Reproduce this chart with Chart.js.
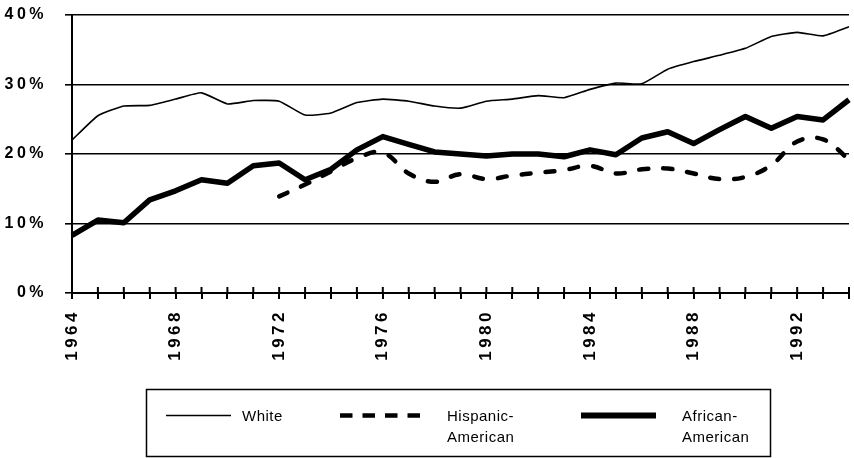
<!DOCTYPE html>
<html>
<head>
<meta charset="utf-8">
<script src="https://cdn.jsdelivr.net/npm/chart.js@4.4.1/dist/chart.umd.min.js"></script>
<style>
  html, body { margin: 0; padding: 0; background: #fff; }
  #wrap { position: relative; width: 854px; height: 458px; }
</style>
</head>
<body>
<div id="wrap"><canvas id="chart"></canvas></div>
<script>
// data (percent)
const years = [];
for (let y = 1964; y <= 1994; y++) years.push(String(y));

const white = [22.0, 25.5, 26.9, 27.0, 27.9, 28.8, 27.2, 27.7, 27.6, 25.6, 25.9, 27.4,
               27.9, 27.6, 26.9, 26.6, 27.6, 27.9, 28.4, 28.1, 29.3,
               30.2, 30.1, 32.2, 33.3, 34.2, 35.2, 36.9, 37.5, 37.0, 38.3];
const hispanic = [null, null, null, null, null, null, null, null,
                  13.9, 15.6, 17.5, 19.4,
                  20.2, 17.2, 16.0, 17.1, 16.4, 16.9, 17.3, 17.7, 18.3,
                  17.2, 17.8, 17.9, 17.2, 16.4, 16.7, 18.4, 21.8, 22.1, 19.2];
const african = [8.3, 10.5, 10.1, 13.4, 14.7, 16.3, 15.8, 18.3, 18.7, 16.3, 17.8, 20.6,
                 22.5, 21.4, 20.3, 20.0, 19.7, 20.0, 20.0, 19.6, 20.6,
                 19.9, 22.3, 23.2, 21.5, 23.5, 25.4, 23.7, 25.4, 24.9, 27.8];
const yTicks = [0, 10, 20, 30, 40];

const FONT = '"Liberation Sans", Arial, sans-serif';

// letter spacing like the scanned original
const spacing = {
    id: 'spacing',
    beforeUpdate(chart) { chart.ctx.letterSpacing = '3.5px'; },
    beforeDraw(chart) { chart.ctx.letterSpacing = '3.5px'; }
};

// tick marks cross the x axis, plus the boxed legend under the chart
const extras = {
    id: 'extras',
    afterDraw(chart) {
        const ctx = chart.ctx;
        const x = chart.scales.x;
        const bottom = chart.chartArea.bottom;
        ctx.save();
        ctx.strokeStyle = '#000';
        ctx.lineWidth = 2;
        x.ticks.forEach((t, i) => {
            const px = x.getPixelForTick(i);
            ctx.beginPath();
            ctx.moveTo(px, bottom - 6);
            ctx.lineTo(px, bottom);
            ctx.stroke();
        });

        // legend box
        ctx.lineWidth = 1.5;
        ctx.strokeRect(146.5, 389.5, 624, 67);
        const ds = chart.data.datasets;
        const items = [
            { x0: 166, x1: 231, tx: 242, lines: ['White'], d: ds[0], dash: [], w: 1.5 },
            { x0: 340, x1: 421, tx: 447, lines: ['Hispanic-', 'American'], d: ds[1], dash: [12.5, 10], w: 4.5 },
            { x0: 581, x1: 656, tx: 682, lines: ['African-', 'American'], d: ds[2], dash: [], w: 6 }
        ];
        items.forEach(it => {
            ctx.beginPath();
            ctx.setLineDash(it.dash);
            ctx.lineCap = 'butt';
            ctx.lineWidth = it.w;
            ctx.strokeStyle = it.d.borderColor;
            ctx.moveTo(it.x0, 415.5);
            ctx.lineTo(it.x1, 415.5);
            ctx.stroke();
            ctx.setLineDash([]);
            ctx.fillStyle = '#000';
            ctx.font = '15px ' + FONT;
            ctx.letterSpacing = '0.5px';
            ctx.textAlign = 'left';
            ctx.textBaseline = 'middle';
            it.lines.forEach((s, k) => ctx.fillText(s, it.tx, 417 + k * 21));
        });
        ctx.restore();
    }
};

const ctx = document.getElementById('chart').getContext('2d');
const chart = new Chart(ctx, {
    type: 'line',
    data: {
        labels: years,
        datasets: [{
            label: 'White',
            data: white,
            borderColor: '#000',
            borderWidth: 1.6,
            pointRadius: 0,
            tension: 0.15
        }, {
            label: 'Hispanic-American',
            data: hispanic,
            borderColor: '#000',
            borderWidth: 4.5,
            borderDash: [9, 15],
            borderCapStyle: 'round',
            pointRadius: 0,
            tension: 0.4,
            spanGaps: false
        }, {
            label: 'African-American',
            data: african,
            borderColor: '#000',
            borderWidth: 5.5,
            borderJoinStyle: 'round',
            pointRadius: 0,
            tension: 0
        }]
    },
    options: {
        responsive: true,
        maintainAspectRatio: false,
        animation: false,
        layout: { padding: { top: 15, right: 5, bottom: 0, left: 0 } },
        plugins: {
            legend: { display: false },
            tooltip: { enabled: false }
        },
        scales: {
            x: {
                grid: {
                    drawOnChartArea: false,
                    color: '#000',
                    lineWidth: 2,
                    tickLength: 6
                },
                border: { color: '#000', width: 2 },
                ticks: {
                    autoSkip: false,
                    minRotation: 90,
                    maxRotation: 90,
                    padding: 10,
                    color: '#000',
                    font: { family: FONT, size: 17, weight: 'bold' },
                    callback: function(value, index) {
                        return index % 4 === 0 ? this.getLabelForValue(value) : '';
                    }
                },
                afterFit: function(scale) {
                    scale.height = 165;
                    scale.paddingLeft = 0;
                    scale.paddingRight = 0;
                }
            },
            y: {
                min: yTicks[0],
                max: yTicks[yTicks.length - 1],
                grid: {
                    color: '#000',
                    lineWidth: 1.6,
                    tickLength: 7
                },
                border: { color: '#000', width: 2 },
                afterBuildTicks: function(scale) {
                    scale.ticks = yTicks.map(v => ({ value: v }));
                },
                ticks: {
                    padding: 18,
                    color: '#000',
                    font: { family: FONT, size: 16, weight: 'bold' },
                    callback: v => v + '%'
                },
                afterFit: function(scale) {
                    scale.width = 72;
                    scale.paddingTop = 0;
                    scale.paddingBottom = 0;
                }
            }
        }
    },
    plugins: [spacing, extras]
});
</script>
</body>
</html>
